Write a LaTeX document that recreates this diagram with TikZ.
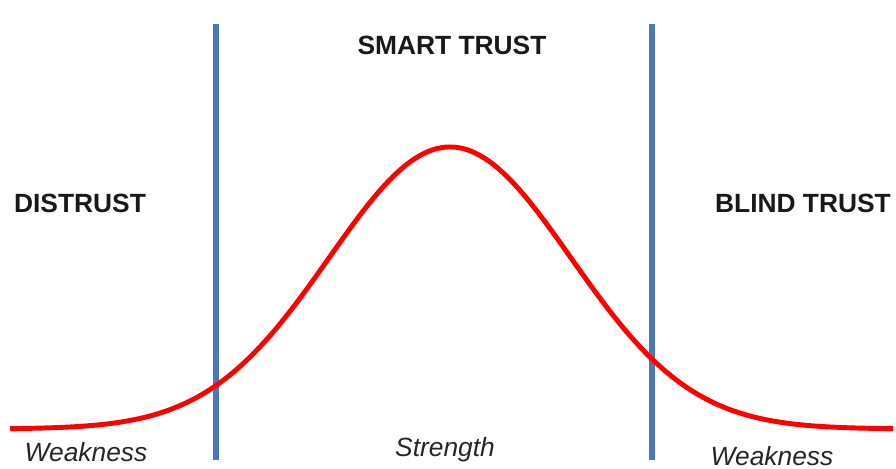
\documentclass[tikz,border=0pt]{standalone}
\usepackage{fontspec}
\setmainfont{Liberation Sans}
\definecolor{lineblue}{HTML}{4A78C0}
\begin{document}
\begin{tikzpicture}[x=0.02cm,y=-0.02cm,smooth,samples=200,
	zone/.style={font=\fontsize{15}{18}\selectfont\bfseries,text=black!90},
	side/.style={font=\fontsize{15}{18}\selectfont\itshape,text=black!85}]
			\useasboundingbox (0,0) rectangle (896,469);
			\draw[line width=3.4pt,color=lineblue] (216,24)--(216,460) (652,24)--(652,460);
			\draw[line width=2.8pt,color=red,domain=10:893]plot(\x,{429-282*exp(-0.5*((\x-450)/121)^2)});
			\node[zone] (smart) at (452,45) {SMART TRUST};
			\node[zone] (distrust) at (80,203) {DISTRUST};
			\node[zone] (blind) at (803,203) {BLIND TRUST};
			\node[side] (weakl) at (86,452) {Weakness};
			\node[side] (strength) at (445,450) {Strength};
			\node[side] (weakr) at (772,456) {Weakness};
			\end{tikzpicture}
\end{document}
